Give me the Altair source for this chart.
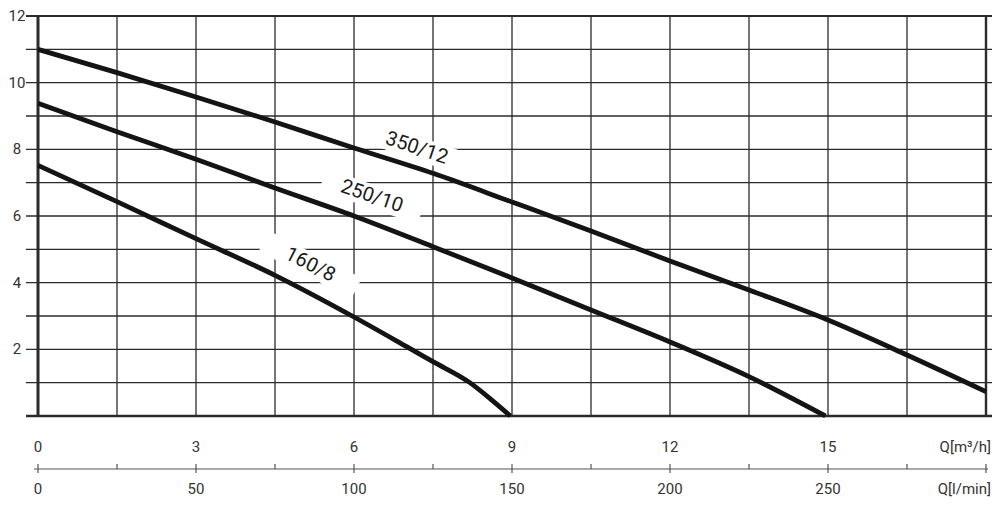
import altair as alt
import pandas as pd

# ---- data ----
q_350 = [0, 1.5, 3, 4.5, 6, 7.5, 9, 10.5, 12, 13.5, 15, 16.5, 18]
h_350 = [11.0, 10.3, 9.57, 8.82, 8.04, 7.28, 6.42, 5.55, 4.65, 3.78, 2.88, 1.83, 0.73]
q_250 = [0, 1.5, 3, 4.5, 6, 7.5, 9, 10.5, 12, 13.5, 14.95]
h_250 = [9.38, 8.53, 7.70, 6.84, 6.0, 5.08, 4.14, 3.18, 2.22, 1.18, 0.0]
q_160 = [0, 1.5, 3, 4.5, 6, 7.0, 7.5, 8.2, 8.6, 8.97]
h_160 = [7.52, 6.43, 5.32, 4.22, 2.97, 2.08, 1.63, 1.0, 0.5, 0.0]

curve_names = ["350/12", "250/10", "160/8"]
label_q = [7.19, 6.34, 5.17]
label_h = [8.04, 6.59, 4.54]
label_angle = [18.6, 19.0, 27.0]

y_labels = [2, 4, 6, 8, 10, 12]
m3h_labels = [0, 3, 6, 9, 12, 15]
lmin_labels = [0, 50, 100, 150, 200, 250]
lmin_ticks = [0, 25, 50, 75, 100, 125, 150, 175, 200, 225, 250, 275, 300]
v_grid = [0, 1.5, 3, 4.5, 6, 7.5, 9, 10.5, 12, 13.5, 15, 16.5, 18]
h_grid = [0, 1, 2, 3, 4, 5, 6, 7, 8, 9, 10, 11, 12]

W, H = 948, 400
FONT = "Roboto"
xs = alt.Scale(domain=[0, 18], nice=False, zero=False)
ys = alt.Scale(domain=[0, 12], nice=False, zero=False)


def X(f):
    return alt.X(f, type="quantitative", scale=xs, axis=None)


def Y(f):
    return alt.Y(f, type="quantitative", scale=ys, axis=None)


vg = pd.DataFrame({"q": v_grid,
                   "w": [3.0 if v == 0 else (2.4 if v == 18 else 1.3) for v in v_grid]})
hg = pd.DataFrame({"h": h_grid,
                   "w": [2.6 if v == 0 else (2.0 if v == 12 else 1.3) for v in h_grid]})

vgrid = alt.Chart(vg).mark_rule(color="#2b2b2b").encode(
    x=X("q"), y=alt.value(0), y2=alt.value(H + 1),
    strokeWidth=alt.StrokeWidth("w:Q", scale=None))
hgrid = alt.Chart(hg).mark_rule(color="#2b2b2b").encode(
    y=Y("h"), x=alt.value(-12), x2=alt.value(W + 6),
    strokeWidth=alt.StrokeWidth("w:Q", scale=None))

curves = pd.concat([
    pd.DataFrame({"series": "350/12", "q": q_350, "h": h_350}),
    pd.DataFrame({"series": "250/10", "q": q_250, "h": h_250}),
    pd.DataFrame({"series": "160/8", "q": q_160, "h": h_160}),
])
lines = alt.Chart(curves).mark_line(
    interpolate="monotone", strokeWidth=4.8, color="#141414", strokeCap="butt"
).encode(x=X("q"), y=Y("h"), detail="series:N")

labs = pd.DataFrame({"t": curve_names, "q": label_q, "h": label_h, "a": label_angle})
box_path = "M-1,-0.221L1,-0.221L1,0.221L-1,0.221Z"
boxes = alt.Chart(labs).mark_point(
    shape=box_path, size=10816, filled=True, color="white", opacity=1, strokeWidth=0
).encode(x=X("q"), y=Y("h"), angle=alt.Angle("a:Q", scale=None))
curve_text = alt.Chart(labs).mark_text(
    font=FONT, fontSize=20, color="#1a1a1a", align="center", baseline="middle"
).encode(x=X("q"), y=Y("h"), text="t:N", angle=alt.Angle("a:Q", scale=None))

ylab = alt.Chart(pd.DataFrame({"h": y_labels})).mark_text(
    font=FONT, fontSize=15, color="#333", align="center", baseline="middle"
).encode(x=alt.value(-21), y=Y("h"), text="h:Q")

m3 = alt.Chart(pd.DataFrame({"q": m3h_labels})).mark_text(
    font=FONT, fontSize=15, color="#333", align="center", baseline="middle"
).encode(x=X("q"), y=alt.value(H + 31), text="q:Q")

lm_df = pd.DataFrame({"l": lmin_labels})
lm_df["q"] = lm_df["l"] * 60 / 1000
lm = alt.Chart(lm_df).mark_text(
    font=FONT, fontSize=15, color="#333", align="center", baseline="middle"
).encode(x=X("q"), y=alt.value(H + 73), text="l:Q")

lt_df = pd.DataFrame({"l": lmin_ticks})
lt_df["q"] = lt_df["l"] * 60 / 1000
lt_df["major"] = lt_df["l"] % 50 == 0
axis_line = alt.Chart(pd.DataFrame({"a": [0]})).mark_rule(color="#555", strokeWidth=1.2).encode(
    x=alt.value(-4), x2=alt.value(W + 2), y=alt.value(H + 53))
minor = alt.Chart(lt_df[~lt_df["major"]]).mark_rule(color="#555", strokeWidth=1.2).encode(
    x=X("q"), y=alt.value(H + 48), y2=alt.value(H + 53))
major = alt.Chart(lt_df[lt_df["major"]]).mark_rule(color="#555", strokeWidth=1.2).encode(
    x=X("q"), y=alt.value(H + 48), y2=alt.value(H + 57))

unit1 = alt.Chart(pd.DataFrame({"t": ["Q[m³/h]"]})).mark_text(
    font=FONT, fontSize=15, color="#333", align="right", baseline="middle"
).encode(x=alt.value(W + 5), y=alt.value(H + 31), text="t:N")
unit2 = alt.Chart(pd.DataFrame({"t": ["Q[l/min]"]})).mark_text(
    font=FONT, fontSize=15, color="#333", align="right", baseline="middle"
).encode(x=alt.value(W + 5), y=alt.value(H + 73), text="t:N")

chart = alt.layer(
    vgrid, hgrid, boxes, lines, curve_text, ylab, m3, lm, axis_line, minor, major, unit1, unit2
).properties(
    width=W, height=H,
    autosize=alt.AutoSizeParams(type="none"),
    padding={"left": 30, "top": 8, "right": 6, "bottom": 81},
).configure_view(stroke=None)

chart.save("out.html", embed_options={"renderer": "svg", "actions": False})
